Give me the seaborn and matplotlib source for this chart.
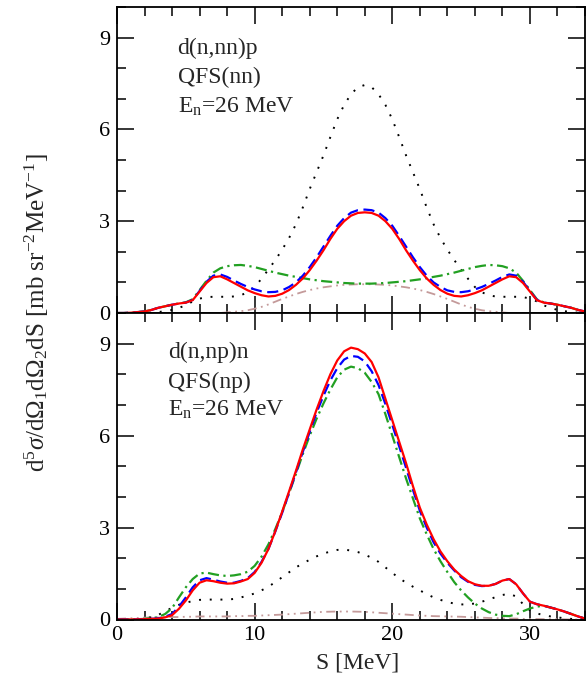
import matplotlib
matplotlib.use("Agg")
import matplotlib.pyplot as plt
import seaborn as sns
from matplotlib.ticker import MultipleLocator

# ---------------- energy grid (MeV) ----------------
S = [0, 0.5, 1, 1.5, 2, 2.5, 3, 3.5, 4, 4.5, 5, 5.5, 6, 6.5, 7, 7.5, 8, 8.5, 9, 9.5,
     10, 10.5, 11, 11.5, 12, 12.5, 13, 13.5, 14, 14.5, 15, 15.5, 16, 16.5, 17, 17.5, 18,
     18.5, 19, 19.5, 20, 20.5, 21, 21.5, 22, 22.5, 23, 23.5, 24, 24.5, 25, 25.5, 26, 26.5,
     27, 27.5, 28, 28.5, 29, 29.5, 30, 30.5, 31, 31.5, 32, 32.5, 33, 33.5, 34]

# ---------------- upper panel: d(n,nn)p, QFS(nn) ----------------
top_red = [0.0, 0.0, 0.01, 0.03, 0.05, 0.10, 0.17, 0.22, 0.27, 0.31, 0.34, 0.42, 0.70, 0.98, 1.17,
           1.20, 1.10, 0.98, 0.86, 0.74, 0.65, 0.58, 0.54, 0.56, 0.63, 0.75, 0.92, 1.13, 1.40, 1.71,
           2.05, 2.42, 2.75, 3.00, 3.18, 3.27, 3.29,
           3.27, 3.18, 3.00, 2.75, 2.42, 2.05, 1.71, 1.40, 1.13, 0.92, 0.75, 0.63, 0.56, 0.54, 0.58,
           0.65, 0.74, 0.86, 0.98, 1.10, 1.20, 1.17, 0.98, 0.70, 0.42, 0.34, 0.31, 0.27, 0.22, 0.17,
           0.10, 0.05]
top_blue = [0.0, 0.0, 0.01, 0.03, 0.05, 0.10, 0.17, 0.22, 0.27, 0.31, 0.34, 0.43, 0.72, 1.02, 1.22,
            1.26, 1.18, 1.06, 0.95, 0.85, 0.77, 0.71, 0.68, 0.69, 0.74, 0.85, 1.00, 1.22, 1.50, 1.82,
            2.17, 2.52, 2.85, 3.10, 3.28, 3.36, 3.38,
            3.36, 3.28, 3.10, 2.85, 2.52, 2.17, 1.82, 1.50, 1.22, 1.00, 0.85, 0.74, 0.69, 0.68, 0.71,
            0.77, 0.85, 0.95, 1.06, 1.18, 1.26, 1.22, 1.02, 0.72, 0.43, 0.34, 0.31, 0.27, 0.22, 0.17,
            0.10, 0.05]
top_green = [0.0, 0.0, 0.01, 0.03, 0.05, 0.10, 0.17, 0.22, 0.27, 0.31, 0.35, 0.45, 0.75, 1.05, 1.32,
             1.46, 1.53, 1.56, 1.57, 1.54, 1.50, 1.44, 1.38, 1.32, 1.27, 1.22, 1.18, 1.14, 1.10, 1.07,
             1.04, 1.02, 1.00, 0.98, 0.97, 0.96, 0.96,
             0.96, 0.97, 0.98, 1.00, 1.02, 1.04, 1.07, 1.10, 1.14, 1.18, 1.22, 1.27, 1.32, 1.38, 1.44,
             1.50, 1.54, 1.57, 1.56, 1.53, 1.46, 1.32, 1.05, 0.75, 0.45, 0.35, 0.31, 0.27, 0.22, 0.17,
             0.10, 0.05]
top_black = [0.0, 0.0, 0.0, 0.0, 0.0, 0.01, 0.03, 0.06, 0.10, 0.17, 0.25, 0.38, 0.47, 0.52, 0.53,
             0.53, 0.53, 0.54, 0.58, 0.68, 0.85, 1.12, 1.42, 1.73, 2.07, 2.45, 2.90, 3.45, 4.05, 4.60,
             5.15, 5.75, 6.33, 6.80, 7.15, 7.38, 7.45,
             7.38, 7.15, 6.80, 6.33, 5.75, 5.15, 4.60, 4.05, 3.45, 2.90, 2.45, 2.07, 1.73, 1.42, 1.12,
             0.85, 0.68, 0.58, 0.54, 0.53, 0.53, 0.53, 0.52, 0.47, 0.38, 0.25, 0.17, 0.10, 0.06, 0.03,
             0.01, 0.0]
top_brown = [0.0, 0.0, 0.0, 0.0, 0.0, 0.0, 0.0, 0.0, 0.0, 0.0, 0.0, 0.0, 0.0, 0.0, 0.0,
             0.0, 0.02, 0.04, 0.06, 0.09, 0.14, 0.20, 0.28, 0.37, 0.46, 0.54, 0.62, 0.69, 0.75, 0.80,
             0.84, 0.87, 0.90, 0.92, 0.93, 0.94, 0.94,
             0.94, 0.93, 0.92, 0.90, 0.87, 0.84, 0.80, 0.75, 0.69, 0.62, 0.54, 0.46, 0.37, 0.28, 0.20,
             0.14, 0.09, 0.06, 0.04, 0.02, 0.0, 0.0, 0.0, 0.0, 0.0, 0.0, 0.0, 0.0, 0.0, 0.0,
             0.0, 0.0]

# ---------------- lower panel: d(n,np)n, QFS(np) ----------------
bot_red = [0.0, 0.0, 0.0, 0.005, 0.01, 0.02, 0.03, 0.07, 0.14, 0.35, 0.62, 0.95, 1.20, 1.28, 1.25,
           1.20, 1.17, 1.18, 1.24, 1.32, 1.52, 1.85, 2.30, 2.88, 3.52, 4.18, 4.85, 5.55, 6.20, 6.85,
           7.45, 8.00, 8.45, 8.75, 8.87, 8.82, 8.68,
           8.40, 7.90, 7.20, 6.50, 5.80, 5.10, 4.35, 3.65, 3.10, 2.62, 2.22, 1.90, 1.63, 1.42, 1.25,
           1.15, 1.10, 1.10, 1.16, 1.27, 1.32, 1.15, 0.85, 0.58, 0.50, 0.45, 0.39, 0.33, 0.26, 0.18,
           0.10, 0.03]
bot_blue = [0.0, 0.0, 0.0, 0.005, 0.01, 0.02, 0.04, 0.09, 0.18, 0.42, 0.72, 1.05, 1.28, 1.35, 1.30,
            1.24, 1.20, 1.20, 1.26, 1.35, 1.55, 1.88, 2.30, 2.87, 3.48, 4.13, 4.80, 5.47, 6.12, 6.75,
            7.30, 7.80, 8.20, 8.48, 8.60, 8.57, 8.42,
            8.10, 7.65, 7.03, 6.35, 5.65, 4.95, 4.23, 3.55, 3.00, 2.52, 2.15, 1.85, 1.60, 1.38, 1.23,
            1.13, 1.09, 1.10, 1.16, 1.27, 1.32, 1.15, 0.85, 0.58, 0.50, 0.45, 0.39, 0.33, 0.26, 0.18,
            0.10, 0.03]
bot_green = [0.0, 0.0, 0.0, 0.01, 0.02, 0.04, 0.08, 0.18, 0.37, 0.72, 1.05, 1.32, 1.50, 1.53, 1.48,
             1.44, 1.42, 1.44, 1.48, 1.56, 1.75, 2.05, 2.45, 2.95, 3.50, 4.12, 4.75, 5.40, 6.00, 6.55,
             7.05, 7.50, 7.90, 8.15, 8.25, 8.20, 8.05,
             7.75, 7.35, 6.70, 6.00, 5.30, 4.60, 3.95, 3.30, 2.78, 2.30, 1.90, 1.55, 1.22, 0.95, 0.72,
             0.52, 0.36, 0.24, 0.16, 0.12, 0.11, 0.17, 0.27, 0.36, 0.42, 0.45, 0.39, 0.33, 0.26, 0.18,
             0.10, 0.03]
bot_black = [0.0, 0.0, 0.0, 0.01, 0.03, 0.08, 0.15, 0.27, 0.38, 0.48, 0.55, 0.60, 0.64, 0.65, 0.65,
             0.65, 0.65, 0.67, 0.72, 0.78, 0.85, 0.95, 1.07, 1.22, 1.38, 1.54, 1.70, 1.83, 1.95, 2.06,
             2.15, 2.22, 2.27, 2.28, 2.25, 2.20, 2.12,
             2.01, 1.88, 1.70, 1.52, 1.35, 1.20, 1.07, 0.95, 0.83, 0.72, 0.64, 0.57, 0.52, 0.49, 0.50,
             0.52, 0.58, 0.65, 0.73, 0.80, 0.84, 0.75, 0.50, 0.30, 0.20, 0.14, 0.10, 0.07, 0.04, 0.02,
             0.01, 0.0]
bot_brown = [0.02, 0.03, 0.04, 0.05, 0.06, 0.065, 0.07, 0.08, 0.08, 0.08, 0.09, 0.09, 0.10, 0.10, 0.10,
             0.10, 0.10, 0.11, 0.11, 0.12, 0.12, 0.13, 0.14, 0.15, 0.16, 0.175, 0.19, 0.205, 0.22, 0.235,
             0.25, 0.255, 0.26, 0.26, 0.26, 0.255, 0.25,
             0.235, 0.22, 0.205, 0.19, 0.175, 0.16, 0.145, 0.13, 0.12, 0.11, 0.105, 0.10, 0.095, 0.09, 0.08,
             0.07, 0.06, 0.05, 0.045, 0.04, 0.03, 0.03, 0.02, 0.02, 0.015, 0.01, 0.01, 0.01, 0.005, 0.0,
             0.0, 0.0]

labels_top = ["d(n,nn)p", "QFS(nn)", r"E$_\mathrm{n}$=26 MeV"]
labels_bot = ["d(n,np)n", "QFS(np)", r"E$_\mathrm{n}$=26 MeV"]
y_ticks = [0, 3, 6, 9]
x_ticks = [0, 10, 20, 30]

# ---------------- style ----------------
sns.set_style("ticks")
plt.rcParams["font.family"] = ["Liberation Serif", "DejaVu Serif"]
plt.rcParams["mathtext.fontset"] = "custom"
plt.rcParams["mathtext.rm"] = "Liberation Serif"
plt.rcParams["mathtext.it"] = "Liberation Serif:italic"
plt.rcParams["mathtext.bf"] = "Liberation Serif:bold"

RED = "#ff0000"
BLUE = "#0000ff"
GREEN = "#22a022"
BLACK = "#000000"
BROWN = "#c49a9a"

fig = plt.figure(figsize=(5.86, 6.77), dpi=100)
L = 117 / 586
W = (585 - 117) / 586
ax_top = fig.add_axes([L, 1 - 313 / 677, W, 306 / 677])
ax_bot = fig.add_axes([L, 1 - 619.5 / 677, W, 306.5 / 677])


def draw(ax, brown, black, green, blue, red):
    sns.lineplot(x=S, y=brown, ax=ax, color=BROWN, lw=1.3, linestyle=(0, (5, 2.5, 1, 2.5, 1, 2.5)))
    sns.lineplot(x=S, y=black, ax=ax, color=BLACK, lw=1.4, linestyle=(0, (1, 4.5)))
    sns.lineplot(x=S, y=green, ax=ax, color=GREEN, lw=1.6, linestyle=(0, (5, 2, 1, 2)))
    sns.lineplot(x=S, y=blue, ax=ax, color=BLUE, lw=1.6, linestyle=(0, (5, 2.5)))
    sns.lineplot(x=S, y=red, ax=ax, color=RED, lw=1.6, linestyle="-")


draw(ax_top, top_brown, top_black, top_green, top_blue, top_red)
draw(ax_bot, bot_brown, bot_black, bot_green, bot_blue, bot_red)

for ax in (ax_top, ax_bot):
    ax.set_xlim(0, 34)
    ax.set_ylim(0, 10)
    ax.set_xticks(x_ticks)
    ax.set_yticks(y_ticks)
    ax.xaxis.set_minor_locator(MultipleLocator(2))
    ax.yaxis.set_minor_locator(MultipleLocator(1))
    ax.tick_params(which="both", direction="in", top=True, right=True, width=1.1, colors="black",
                   labelsize=16)
    ax.tick_params(which="major", length=12, pad=5)
    ax.tick_params(which="minor", length=6.5)
    for sp in ax.spines.values():
        sp.set_linewidth(1.3)
        sp.set_color("black")
    ax.set_xlabel("")
    ax.set_ylabel("")

ax_top.tick_params(labelbottom=False)

for i, t in enumerate(labels_top):
    ax_top.text(4.4, [8.66, 7.7, 6.75][i], t, fontsize=17, va="center", ha="left")
for i, t in enumerate(labels_bot):
    ax_bot.text(3.7, [8.73, 7.75, 6.85][i], t, fontsize=17, va="center", ha="left")

fig.text(358 / 586, 1 - 663 / 677, "S [MeV]", fontsize=17, ha="center", va="center")
fig.text(37 / 586, 1 - 313 / 677,
         r"d$^5\sigma$/d$\Omega_1$d$\Omega_2$dS [mb sr$^{-2}$MeV$^{-1}$]",
         fontsize=18, rotation=90, ha="center", va="center")

fig.savefig("out.png", dpi=100)
